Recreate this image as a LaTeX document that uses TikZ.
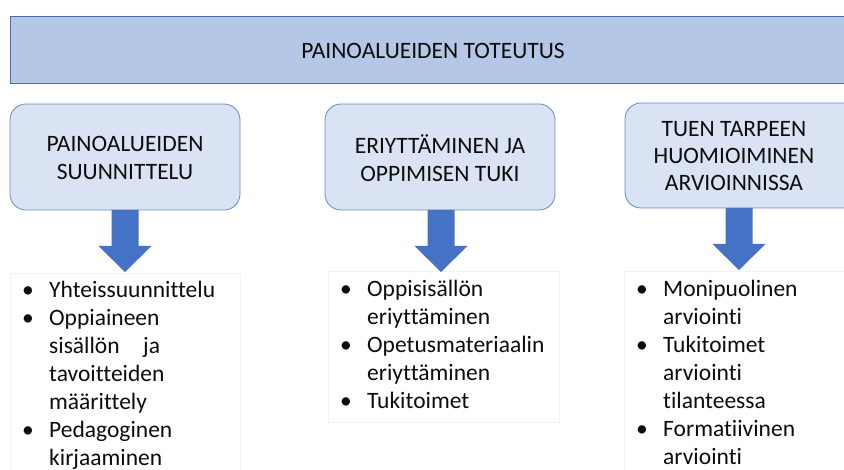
\documentclass[tikz,border=0pt]{standalone}
\usepackage{fontspec}
\setmainfont{Carlito}[Ligatures=NoCommon]
\definecolor{bannerfill}{HTML}{B4C7E7}
\definecolor{bannerdraw}{HTML}{4A6FA5}
\definecolor{boxfill}{HTML}{DAE3F3}
\definecolor{boxdraw}{HTML}{6A8AC2}
\definecolor{arrowblue}{HTML}{4472C4}
\definecolor{txt}{HTML}{0D0D0D}
\tikzset{
  banner/.style={draw=bannerdraw, fill=bannerfill, line width=0.8pt},
  topicbox/.style={draw=boxdraw, fill=boxfill, line width=0.8pt, rounded corners=16pt},
  listbox/.style={draw=black!5, fill=white, line width=0.6pt},
  downarrow/.style={fill=arrowblue, draw=none},
  title/.style={font=\fontsize{23.5}{26}\selectfont, text=txt, inner sep=0pt},
  boxtitle/.style={font=\fontsize{23.5}{28}\selectfont, text=txt, align=center, inner sep=0pt},
  listtext/.style={font=\fontsize{23.5}{28}\selectfont, text=txt, inner sep=0pt, anchor=base west},
}
\newcommand{\bul}{\makebox[27pt][l]{\textbullet}}
\newcommand{\ind}{\makebox[27pt][l]{}}
\newcommand{\downarr}[1]{% #1 = name of top coordinate
  \path[downarrow] (#1) ++(-13.5,0) -- ++(0,36) -- ++(-13,0) -- ++(26.5,26) -- ++(26.5,-26) -- ++(-13,0) -- ++(0,-36) -- cycle;}
\begin{document}
\begin{tikzpicture}[x=1pt,y=-1pt]
\useasboundingbox (0,0) rectangle (844,470);
% banner
\path[banner] (10,16) rectangle (850,83);
\node[title] (ban) at (433,51) {PAINOALUEIDEN TOTEUTUS};
% topic boxes
\path[topicbox] (10,104) rectangle (240,210);
\node[boxtitle] (t1) at (125,158) {PAINOALUEIDEN\\SUUNNITTELU};
\path[topicbox] (325,104) rectangle (555,210);
\node[boxtitle] (t2) at (440,158) {ERIYTTÄMINEN JA\\OPPIMISEN TUKI};
\path[topicbox] (625,103) rectangle (860,208);
\node[boxtitle, font=\fontsize{23.5}{27}\selectfont] (t3) at (734,156) {TUEN TARPEEN\\HUOMIOIMINEN\\ARVIOINNISSA};
% list boxes
\path[listbox] (10,273) rectangle (240,475);
\path[listbox] (328,271) rectangle (559,422);
\path[listbox] (624,271) rectangle (850,475);
% arrows
\coordinate (a1) at (125,210);
\coordinate (a2) at (441,210);
\coordinate (a3) at (739,208);
\downarr{a1}
\downarr{a2}
\downarr{a3}
% lists
\node[listtext] (l1) at (22,298) {\begin{tabular}[t]{@{}l@{}}
\bul Yhteissuunnittelu\\
\bul Oppiaineen\\
\ind sisällön\quad ja\\
\ind tavoitteiden\\
\ind määrittely\\
\bul Pedagoginen\\
\ind kirjaaminen
\end{tabular}};
\node[listtext] (l2) at (340,297) {\begin{tabular}[t]{@{}l@{}}
\bul Oppisisällön\\
\ind eriyttäminen\\
\bul Opetusmateriaalin\\
\ind eriyttäminen\\
\bul Tukitoimet
\end{tabular}};
\node[listtext] (l3) at (636,297) {\begin{tabular}[t]{@{}l@{}}
\bul Monipuolinen\\
\ind arviointi\\
\bul Tukitoimet\\
\ind arviointi\\
\ind tilanteessa\\
\bul Formatiivinen\\
\ind arviointi
\end{tabular}};
\end{tikzpicture}
\end{document}
